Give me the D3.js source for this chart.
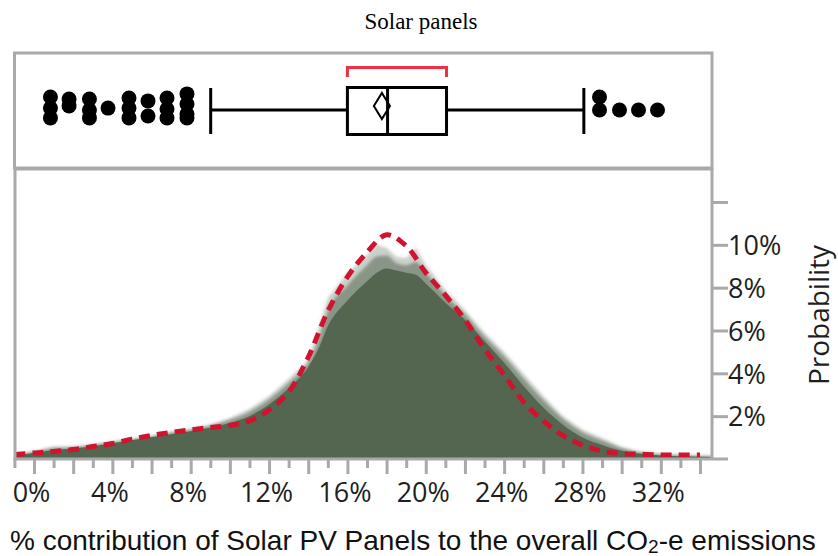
<!DOCTYPE html>
<html>
<head>
<meta charset="utf-8">
<script src="https://cdn.jsdelivr.net/npm/d3@7"></script>
<style>
  body { margin: 0; background: #fff; }
  svg { display: block; }
  .tick text { font-family: "Open Sans", sans-serif; fill: #1e1e1e; }
</style>
</head>
<body>
<div id="viz"></div>
<script>
/*** data ***/
const pct = [-1,0,1,2,3,4,5,6,7,8,9,10,11,12,13,14,14.5,15,16,17,17.5,18,18.5,19,19.5,20,21,22,23,24,25,26,27,28,29,30,31,32,33,34,35];
// outer envelope of the simulated histograms (probability, %)
const outerProb = [0.23,0.37,0.58,0.58,0.68,0.82,0.93,1.07,1.26,1.40,1.61,1.92,2.34,2.94,3.74,4.63,6.03,7.52,8.69,9.53,10.0,9.86,9.44,9.39,9.86,9.07,7.90,6.96,5.89,5.0,3.97,2.94,2.0,1.36,0.98,0.56,0.33,0.23,0.19,0.16,0.14];
const midProb = [0.20,0.32,0.50,0.54,0.64,0.78,0.91,1.05,1.22,1.36,1.55,1.82,2.20,2.78,3.55,4.50,5.50,6.90,8.10,9.05,9.45,9.50,9.15,9.05,9.20,8.70,7.65,6.75,5.72,4.80,3.75,2.75,1.88,1.25,0.86,0.50,0.30,0.21,0.16,0.13,0.11];
const coreProb = [0.17,0.28,0.42,0.49,0.59,0.73,0.87,1.01,1.16,1.30,1.46,1.68,2.00,2.55,3.30,4.30,5.10,6.20,7.40,8.30,8.70,8.90,8.80,8.70,8.60,8.20,7.30,6.50,5.50,4.50,3.40,2.40,1.60,1.00,0.65,0.38,0.24,0.16,0.13,0.10,0.09];
// fitted distribution (red dashed)
const fitPct = [-1,0,1,2,3,4,5,6,7,8,9,10,11,12,13,14,15,16,17,18,19,20,21,22,23,24,25,26,27,28,29,30,31,32,33,34];
const fitProb = [0.21,0.28,0.35,0.44,0.58,0.72,0.93,1.10,1.24,1.36,1.47,1.57,1.78,2.29,3.13,4.75,6.9,8.5,9.65,10.47,9.95,8.7,7.65,6.5,5.14,3.93,2.66,1.78,1.10,0.65,0.37,0.26,0.22,0.19,0.19,0.19];

// box plot: lower whisker, Q1, median, Q3, upper whisker
const boxValues = [9.02, 16.0, 18.05, 21.06, 28.07];
const meanCI = [17.35, 17.76, 18.17];
const shortestHalf = [16.0, 21.06];
const outlierValues = [0.84,0.84,0.84,1.79,1.79,2.83,2.83,2.83,3.78,4.85,4.85,4.85,5.82,5.82,6.79,6.79,6.79,7.81,7.81,7.81,7.81,28.87,28.87,29.89,30.86,31.83];
const outlierJitter = [-0.54,-0.08,0.33,-0.46,-0.17,-0.46,0,0.33,-0.08,-0.5,-0.08,0.33,-0.38,0.25,-0.5,-0.04,0.33,-0.67,-0.25,0.17,0.33,-0.54,0,0,0,0];

const xTickLabels = [0,4,8,12,16,20,24,28,32];
const yTickLabels = [2,4,6,8,10];

/*** layout ***/
const width = 838, height = 556;
const left = 15, right = 712;
const boxTop = 53, boxBottom = 168, plotTop = 169, plotBottom = 459;
const green = "#546650";

const x = d3.scaleLinear().domain([0, 34]).range([34, 700]);
const y = d3.scaleLinear().domain([0, 12]).range([plotBottom, 202]);
const jy = d3.scaleLinear().domain([-1, 1]).range([86, 134]);

const svg = d3.select("#viz").append("svg")
  .attr("width", width)
  .attr("height", height);

const defs = svg.append("defs");
defs.append("clipPath").attr("id", "clip")
  .append("rect")
  .attr("x", left).attr("y", plotTop)
  .attr("width", right - left).attr("height", plotBottom - plotTop);
defs.append("filter").attr("id", "soft")
  .append("feGaussianBlur").attr("stdDeviation", 1.6);

// title
svg.append("text")
  .attr("x", 421).attr("y", 29)
  .attr("text-anchor", "middle")
  .style("font-family", "'Liberation Serif', serif")
  .style("font-size", "23px")
  .text("Solar panels");

/*** density panel ***/
const g = svg.append("g").attr("clip-path", "url(#clip)");

function areaFor(vals, curve) {
  return d3.area()
    .x((d, i) => x(pct[i]))
    .y0(y(0))
    .y1((d) => y(d))
    .curve(curve)(vals);
}

g.append("path")
  .attr("d", areaFor(outerProb, d3.curveLinear))
  .attr("fill", green).attr("fill-opacity", 0.3)
  .attr("filter", "url(#soft)");
g.append("path")
  .attr("d", areaFor(midProb, d3.curveMonotoneX))
  .attr("fill", green).attr("fill-opacity", 0.55)
  .attr("filter", "url(#soft)");
g.append("path")
  .attr("d", areaFor(coreProb, d3.curveMonotoneX))
  .attr("fill", green);

g.append("path")
  .datum(fitProb)
  .attr("d", d3.line()
    .x((d, i) => x(fitPct[i]))
    .y((d) => y(d))
    .curve(d3.curveCatmullRom))
  .attr("fill", "none")
  .attr("stroke", "#d0132e")
  .attr("stroke-width", 5)
  .attr("stroke-dasharray", "11,7");

// frames
const frame = "#a9a9a9";
svg.append("path")
  .attr("d", `M${left},${plotBottom}V${plotTop}H${right}V${plotBottom}`)
  .attr("fill", "none").attr("stroke", frame).attr("stroke-width", 3);
svg.append("rect")
  .attr("x", left - 0.5).attr("y", boxTop)
  .attr("width", right - left + 0.5).attr("height", boxBottom - boxTop)
  .attr("fill", "none").attr("stroke", frame).attr("stroke-width", 3);

// x axis: minor (odd) and major (even) ticks
const minorTicks = d3.range(-1, 35, 2);
const majorTicks = d3.range(0, 35, 2);

const xMinor = svg.append("g")
  .attr("transform", `translate(0,${plotBottom})`)
  .call(d3.axisBottom(x).tickValues(minorTicks).tickSize(9).tickFormat(""));
const xMajor = svg.append("g")
  .attr("transform", `translate(0,${plotBottom})`)
  .call(d3.axisBottom(x).tickValues(majorTicks).tickSize(15)
    .tickFormat((d) => xTickLabels.includes(d) ? d + "%" : ""));
[xMinor, xMajor].forEach((ax) => {
  ax.select(".domain").remove();
  ax.selectAll("line").attr("stroke", frame).attr("stroke-width", 3);
});
xMajor.selectAll("text")
  .attr("dx", -3).attr("y", 20).attr("dy", "0.85em")
  .style("font-size", "27px");
svg.append("line")
  .attr("x1", left - 1.5).attr("x2", 728)
  .attr("y1", plotBottom).attr("y2", plotBottom)
  .attr("stroke", frame).attr("stroke-width", 3);

// y axis on the right
const yAx = svg.append("g")
  .attr("transform", `translate(${right},0)`)
  .call(d3.axisRight(y).tickValues(d3.range(2, 13, 2)).tickSize(16)
    .tickFormat((d) => yTickLabels.includes(d) ? d + "%" : ""));
yAx.select(".domain").remove();
yAx.selectAll("line").attr("stroke", frame).attr("stroke-width", 3);
yAx.selectAll("text")
  .attr("x", 16).attr("dy", "0.36em")
  .style("font-size", "27px");

svg.append("text")
  .attr("transform", "translate(829,315) rotate(-90)")
  .attr("text-anchor", "middle")
  .style("font-family", "'Open Sans', sans-serif")
  .style("font-size", "28px")
  .attr("fill", "#1e1e1e")
  .text("Probability");

// x axis title
const xt = svg.append("text")
  .attr("x", 10).attr("y", 550)
  .style("font-family", "'Liberation Sans', Arial, sans-serif")
  .style("font-size", "28px")
  .attr("fill", "#111");
xt.append("tspan").text("% contribution of Solar PV Panels to the overall CO");
xt.append("tspan").attr("font-size", "19px").attr("dy", 3).text("2");
xt.append("tspan").attr("dy", -3).text("-e emissions");

/*** box plot panel ***/
const bp = svg.append("g").attr("stroke", "#000").attr("stroke-width", 3).attr("fill", "none");
const [lo, q1, med, q3, hi] = boxValues;
const cy = jy(0);

bp.append("line").attr("x1", x(lo)).attr("x2", x(q1)).attr("y1", cy).attr("y2", cy);
bp.append("line").attr("x1", x(q3)).attr("x2", x(hi)).attr("y1", cy).attr("y2", cy);
bp.append("line").attr("x1", x(lo)).attr("x2", x(lo)).attr("y1", 88).attr("y2", 134);
bp.append("line").attr("x1", x(hi)).attr("x2", x(hi)).attr("y1", 88).attr("y2", 134);
bp.append("rect")
  .attr("x", x(q1)).attr("y", 87.5)
  .attr("width", x(q3) - x(q1)).attr("height", 47);
bp.append("line").attr("x1", x(med)).attr("x2", x(med)).attr("y1", 87.5).attr("y2", 134.5);
bp.append("path")
  .attr("stroke-width", 2)
  .attr("d", `M${x(meanCI[0])},${cy - 4}L${x(meanCI[1])},${cy - 17}L${x(meanCI[2])},${cy - 4}L${x(meanCI[1])},${cy + 9}Z`);

svg.append("path")
  .attr("d", `M${x(shortestHalf[0])},77V67.5H${x(shortestHalf[1])}V77`)
  .attr("fill", "none").attr("stroke", "#ee2f45").attr("stroke-width", 3);

svg.append("g")
  .selectAll("circle")
  .data(outlierValues)
  .join("circle")
  .attr("cx", (d) => x(d))
  .attr("cy", (d, i) => jy(outlierJitter[i]))
  .attr("r", 7.5)
  .attr("fill", "#000");
</script>
</body>
</html>
